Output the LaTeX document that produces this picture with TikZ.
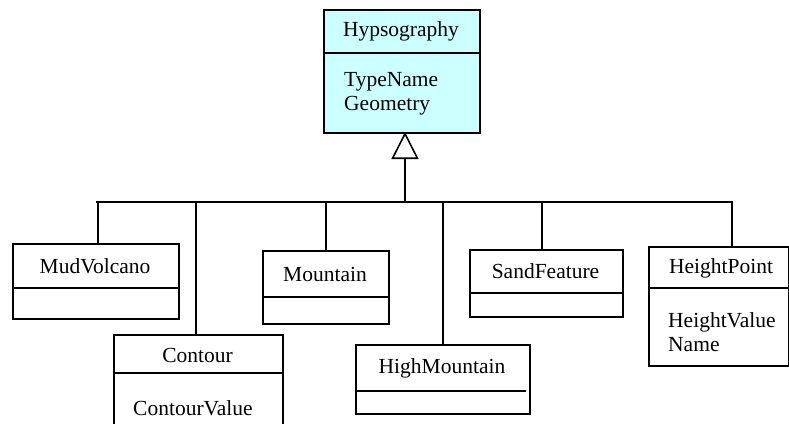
\documentclass[tikz,border=0pt]{standalone}
\usepackage{fontspec}
\setmainfont{Liberation Serif}
\usetikzlibrary{arrows.meta}
\definecolor{hypfill}{HTML}{CCFFFF}
\tikzset{
  classbox/.style={draw, line width=1.6pt, rectangle, anchor=north west, inner sep=0pt},
  sep/.style={line width=1.6pt},
  conn/.style={line width=1.6pt},
  title/.style={font=\fontsize{21.5}{24}\selectfont, inner sep=0pt},
  attr/.style={font=\fontsize{21.5}{24}\selectfont, inner sep=0pt, align=left, anchor=west},
  inherit/.style={line width=1.6pt, -{Triangle[open, length=27pt, width=27pt]}}
}
\begin{document}
\begin{tikzpicture}[x=1pt, y=-1pt]
\useasboundingbox (0,0) rectangle (789,423);
\clip (0,0) rectangle (789,423);

% Hypsography
\node[classbox, fill=hypfill, minimum width=156pt, minimum height=123pt] (hyp) at (323,9) {};
\draw[sep] (323,53) -- (479,53);
\node[title] (hypt) at (401,31) {Hypsography};
\node[attr] (hypa) at (344,94) {TypeName\\Geometry};

% MudVolcano
\node[classbox, minimum width=166pt, minimum height=75pt] (mud) at (12,243) {};
\draw[sep] (12,288) -- (178,288);
\node[title] (mudt) at (95,266) {MudVolcano};

% Contour
\node[classbox, minimum width=169pt, minimum height=120pt] (con) at (113,334) {};
\draw[sep] (113,373) -- (282,373);
\node[title] (cont) at (197.5,355) {Contour};
\node[attr] (cona) at (133,408) {ContourValue};

% Mountain
\node[classbox, minimum width=126pt, minimum height=73pt] (mnt) at (262,250) {};
\draw[sep] (262,297) -- (390,297);
\node[title] (mntt) at (325,274) {Mountain};

% HighMountain
\node[classbox, minimum width=174pt, minimum height=69pt] (hmt) at (355,344) {};
\draw[sep] (355,391) -- (526,391);
\node[title] (hmtt) at (442,368) {HighMountain};

% SandFeature
\node[classbox, minimum width=153pt, minimum height=67pt] (snd) at (469,249) {};
\draw[sep] (469,293) -- (622,293);
\node[title] (sndt) at (545.5,271) {SandFeature};

% HeightPoint
\node[classbox, minimum width=140pt, minimum height=119pt] (hpt) at (648,246) {};
\draw[sep] (648,288) -- (788,288);
\node[title] (hptt) at (721,268) {HeightPoint};
\node[attr] (hpta) at (668,332.5) {HeightValue\\Name};

% bus and connectors
\coordinate (busL) at (96,202);
\coordinate (busR) at (733,202);
\coordinate (hub) at (405,202);
\coordinate (apex) at (405,132);
\coordinate (jmud) at (98,202);
\coordinate (jcon) at (196,202);
\coordinate (jmnt) at (326,202);
\coordinate (jhmt) at (443,202);
\coordinate (jsnd) at (542,202);
\coordinate (jhpt) at (732,202);

\draw[conn] (busL) -- (busR);
\draw[inherit] (hub) -- (apex);
\draw[conn] (jmud) -- (jmud |- mud.north);
\draw[conn] (jcon) -- (jcon |- con.north);
\draw[conn] (jmnt) -- (jmnt |- mnt.north);
\draw[conn] (jhmt) -- (jhmt |- hmt.north);
\draw[conn] (jsnd) -- (jsnd |- snd.north);
\draw[conn] (jhpt) -- (jhpt |- hpt.north);
\end{tikzpicture}
\end{document}
